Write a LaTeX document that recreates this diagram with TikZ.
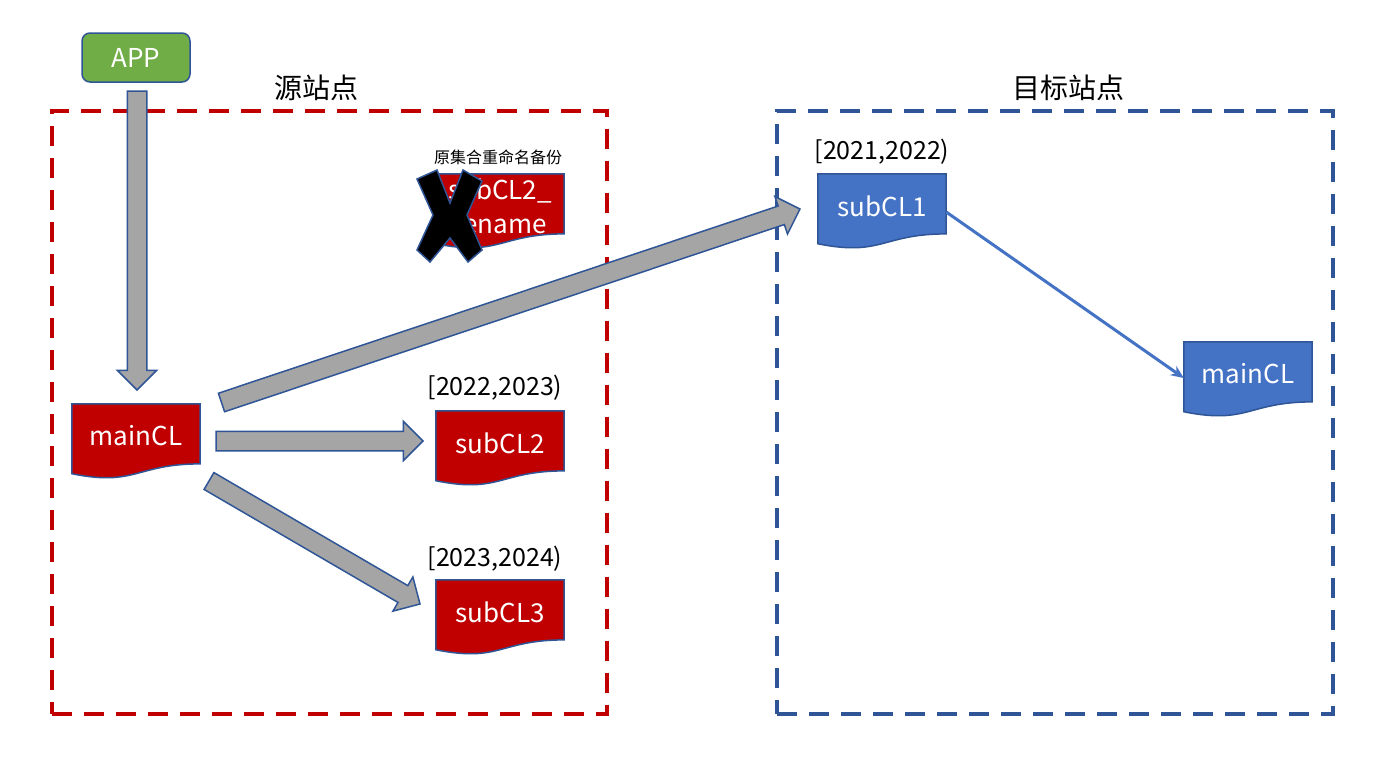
\documentclass[tikz,border=0pt]{standalone}
\usepackage{fontspec}
\setmainfont{Noto Sans CJK SC}
\usetikzlibrary{shapes.arrows,calc,backgrounds,arrows.meta}
\definecolor{clred}{HTML}{C00000}
\definecolor{clblue}{HTML}{4472C4}
\definecolor{clborder}{HTML}{2F5597}
\definecolor{appgreen}{HTML}{70AD47}
\definecolor{arrowgray}{HTML}{A5A5A5}

\tikzset{
  docnode/.style={minimum width=128pt, minimum height=64pt, inner sep=0pt,
    text=white, font=\fontsize{26}{34}\selectfont, align=center},
  rangelabel/.style={font=\fontsize{25}{29}\selectfont},
  sitetitle/.style={font=\fontsize{28}{32}\selectfont},
  regionbox/.style={draw, line width=4pt, dash pattern=on 20pt off 12pt},
  blockarrow/.style={single arrow, draw=clborder, fill=arrowgray, line width=1.5pt,
    inner xsep=0pt, inner ysep=9pt, single arrow head extend=10pt,
    single arrow head indent=0pt, anchor=tail, outer sep=0pt}
}

% wavy "document" outline round a node
\newcommand{\docshape}[2]{%
  \filldraw[fill=#2, draw=clborder, line width=1.5pt]
    (#1.north west) -- (#1.north east)
    -- ($(#1.north east)!0.933!(#1.south east)$)
    .. controls ($(#1.north)!0.933!(#1.south)$) and ($(#1.north)!1.288!(#1.south)$)
    .. ($(#1.north west)!1.086!(#1.south west)$) -- cycle;}

% block arrow from #1 to #2, named #3
\newcommand{\blockarrow}[3]{%
  \path let \p1=($(#2)-(#1)$), \n1={atan2(\y1,\x1)}, \n2={veclen(\x1,\y1)} in
    node[blockarrow, rotate=\n1, minimum height=\n2] (#3) at (#1) {};}

\begin{document}
\begin{tikzpicture}[x=1pt, y=-1pt]
  \useasboundingbox (0,0) rectangle (1391,771);

  % Sites
  \node[regionbox, draw=clred, minimum width=555pt, minimum height=603pt] (src) at (329.5,412.5) {};
  \node[regionbox, draw=clborder, minimum width=556pt, minimum height=603pt] (dst) at (1055,412.5) {};
  \node[sitetitle] (srctitle) at (316,88) {源站点};
  \node[sitetitle] (dsttitle) at (1068,88) {目标站点};

  % App
  \node[draw=clborder, fill=appgreen, line width=1.5pt, rounded corners=8pt,
    minimum width=108pt, minimum height=49pt, text=white,
    font=\fontsize{26}{30}\selectfont] (app) at (136,57.5) {APP};

  % Collections
  \node[docnode] (mainA) at (136,436) {mainCL};
  \node[docnode] (oldsub) at (500,206) {subCL2\_\\rename};
  \node[docnode] (sub2) at (500,443) {subCL2};
  \node[docnode] (sub3) at (500,612) {subCL3};
  \node[docnode] (sub1) at (882,206) {subCL1};
  \node[docnode] (mainB) at (1248,374) {mainCL};
  \begin{scope}[on background layer]
    \fill[white] (0,0) rectangle (1391,771);
    \docshape{mainA}{clred}
    \docshape{oldsub}{clred}
    \docshape{sub2}{clred}
    \docshape{sub3}{clred}
    \docshape{sub1}{clblue}
    \docshape{mainB}{clblue}
  \end{scope}

  % Labels
  \node[font=\fontsize{16}{20}\selectfont] (oldlabel) at (498,157) {原集合重命名备份};
  \node[rangelabel] (range2) at (495,388) {[2022,2023)};
  \node[rangelabel] (range3) at (495,559) {[2023,2024)};
  \node[rangelabel] (range1) at (882,152) {[2021,2022)};

  % Cross over the backup
  \filldraw[fill=black, draw=clborder, line width=1.5pt]
    (437,170) -- (450,203) -- (463,170) -- (482,181) -- (467,215) -- (482,250)
    -- (468,262) -- (450,238) -- (430,262) -- (417,250) -- (433,215) -- (417,179) -- cycle;

  % Block arrows
  \coordinate (downtail) at (137,91);
  \coordinate (downtip) at (137,390);
  \coordinate (flattail) at (216,441);
  \coordinate (flattip) at (423,441);
  \coordinate (longtail) at (221.5,402.5);
  \coordinate (longtip) at (800,209);
  \coordinate (lowtail) at (209,481);
  \coordinate (lowtip) at (420,604);
  \blockarrow{downtail}{downtip}{appdown}
  \blockarrow{flattail}{flattip}{tosub2}
  \blockarrow{longtail}{longtip}{tosub1}
  \blockarrow{lowtail}{lowtip}{tosub3}

  % Target site link
  \draw[-{Stealth[length=13pt,width=11pt]}, clblue, line width=3pt]
    ([yshift=-6pt]sub1.east) -- ([yshift=-4pt]mainB.west);
\end{tikzpicture}
\end{document}
